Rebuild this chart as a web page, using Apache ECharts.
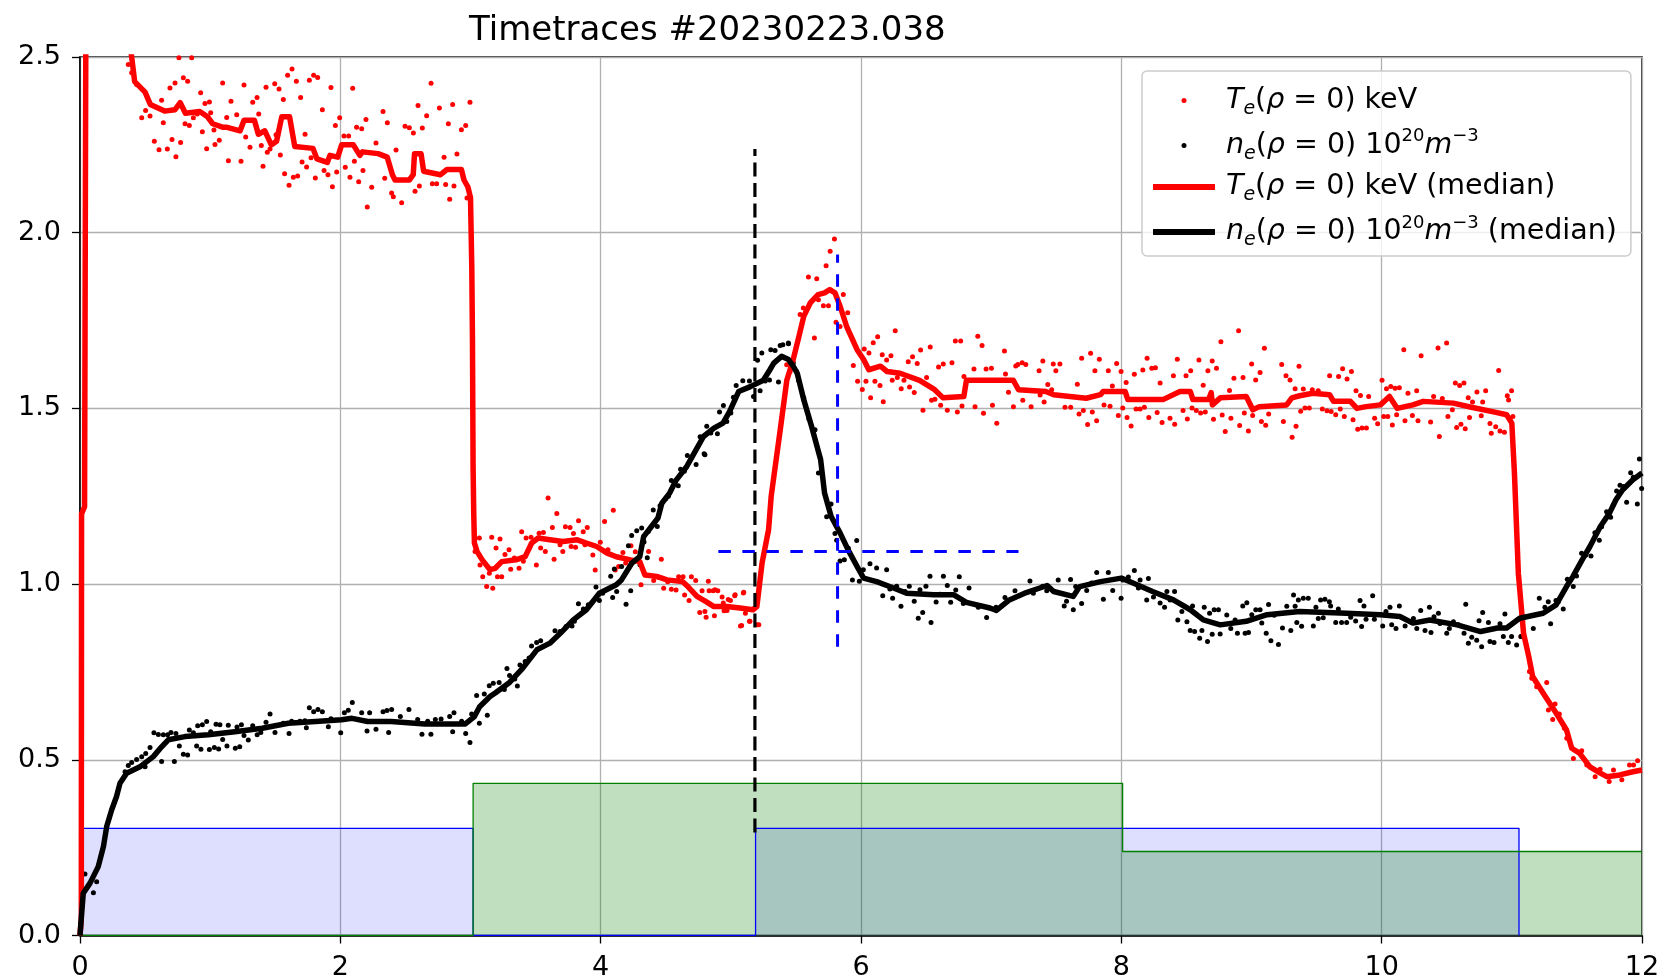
<!DOCTYPE html>
<html>
<head>
<meta charset="utf-8">
<title>Timetraces #20230223.038</title>
<script src="https://cdn.jsdelivr.net/npm/echarts@6/dist/echarts.min.js"></script>
<style>
  html, body { margin: 0; padding: 0; background: #ffffff; }
  #chart { width: 1663px; height: 980px; }
</style>
</head>
<body>
<div id="chart"></div>
<script>
// ---- axis ticks ----
const xTicks = [0, 2, 4, 6, 8, 10, 12];
const yTicks = [0.0, 0.5, 1.0, 1.5, 2.0, 2.5];

// ---- central electron temperature, raw samples [t (s), keV] ----
const teSamples = [
  [0.371,2.479],[0.397,2.455],[0.435,2.422],[0.474,2.327],[0.504,2.348],[0.538,2.332],[0.571,2.26],[0.607,2.236],
  [0.627,2.377],[0.64,2.313],[0.671,2.238],[0.691,2.412],[0.707,2.265],[0.73,2.426],[0.737,2.216],[0.76,2.498],
  [0.773,2.257],[0.794,2.441],[0.807,2.31],[0.827,2.431],[0.84,2.305],[0.858,2.498],[0.871,2.327],[0.901,2.338],
  [0.927,2.398],[0.94,2.287],[0.96,2.368],[0.973,2.239],[0.994,2.372],[1.004,2.341],[1.029,2.292],[1.037,2.251],
  [1.07,2.263],[1.096,2.426],[1.127,2.328],[1.14,2.205],[1.16,2.374],[1.204,2.336],[1.237,2.203],[1.26,2.42],
  [1.273,2.272],[1.306,2.243],[1.327,2.371],[1.36,2.385],[1.373,2.338],[1.393,2.248],[1.406,2.189],[1.429,2.414],
  [1.439,2.229],[1.46,2.238],[1.496,2.424],[1.506,2.279],[1.529,2.409],[1.539,2.221],[1.562,2.379],[1.572,2.168],
  [1.595,2.448],[1.606,2.135],[1.629,2.466],[1.639,2.158],[1.662,2.431],[1.672,2.161],[1.695,2.385],[1.706,2.201],
  [1.729,2.28],[1.741,2.187],[1.762,2.434],[1.775,2.213],[1.795,2.448],[1.808,2.156],[1.826,2.442],[1.862,2.35],
  [1.875,2.177],[1.905,2.165],[1.928,2.413],[1.939,2.131],[1.962,2.305],[1.972,2.173],[1.995,2.327],[2.028,2.275],
  [2.038,2.186],[2.064,2.275],[2.074,2.158],[2.095,2.411],[2.108,2.203],[2.125,2.3],[2.141,2.145],[2.164,2.296],
  [2.174,2.177],[2.197,2.322],[2.207,2.073],[2.241,2.129],[2.274,2.255],[2.328,2.345],[2.341,2.155],[2.361,2.313],
  [2.394,2.113],[2.407,2.102],[2.428,2.235],[2.471,2.085],[2.497,2.303],[2.53,2.299],[2.561,2.284],[2.574,2.118],
  [2.597,2.362],[2.607,2.133],[2.63,2.298],[2.663,2.333],[2.697,2.425],[2.707,2.139],[2.74,2.139],[2.761,2.355],
  [2.797,2.215],[2.809,2.137],[2.83,2.31],[2.84,2.095],[2.863,2.365],[2.873,2.133],[2.896,2.224],[2.93,2.293],
  [2.963,2.305],[2.973,2.099],[2.996,2.371],
  [3.035,1.093],[3.068,1.131],[3.073,1.054],[3.094,1.021],[3.124,0.993],[3.145,1.031],[3.163,1.133],[3.171,0.988],
  [3.196,1.103],[3.207,1.021],[3.227,1.128],[3.24,1.021],[3.265,1.084],[3.296,1.098],[3.309,1.042],[3.337,1.074],
  [3.373,1.045],[3.393,1.149],[3.406,1.065],[3.427,1.131],[3.465,1.133],[3.506,1.054],[3.527,1.145],[3.539,1.103],
  [3.56,1.147],[3.575,1.093],[3.596,1.245],[3.629,1.161],[3.642,1.071],[3.663,1.201],[3.688,1.112],[3.709,1.093],
  [3.729,1.163],[3.765,1.161],[3.773,1.107],[3.791,1.144],[3.807,1.105],[3.83,1.18],[3.866,1.149],[3.879,1.112],
  [3.897,1.161],[3.94,1.083],[3.958,1.04],[3.997,1.119],[4.03,1.178],[4.056,1.098],[4.097,1.21],[4.112,1.04],
  [4.138,1.05],[4.171,1.09],[4.192,1.06],[4.233,1.109],[4.266,1.092],[4.31,0.998],[4.368,1.093],[4.407,1.01],
  [4.445,1.019],[4.466,1.071],[4.484,0.988],[4.515,1.007],[4.543,0.985],[4.579,0.983],[4.599,1.021],[4.633,1.021],
  [4.645,0.969],[4.679,0.953],[4.697,1.021],[4.73,1.01],[4.761,0.919],[4.779,0.981],[4.801,0.922],[4.81,0.906],
  [4.827,1.008],[4.833,0.981],[4.864,0.981],[4.874,0.91],[4.878,0.984],[4.9,0.981],[4.933,0.963],[4.942,0.946],
  [4.948,0.924],[4.971,0.925],[4.98,0.956],[4.997,0.953],[5.03,0.967],[5.033,0.97],[5.074,0.881],[5.083,0.882],
  [5.096,0.975],[5.099,0.977],[5.112,0.917],[5.143,0.894],[5.147,0.894],[5.203,0.884],[5.215,0.884],
  [5.429,1.624],[5.455,1.605],[5.532,1.767],[5.557,1.786],[5.596,1.874],[5.642,1.7],[5.66,1.869],[5.673,1.809],
  [5.711,1.792],[5.732,1.906],[5.75,1.792],[5.763,1.947],[5.796,1.982],[5.808,1.745],[5.839,1.733],[5.864,1.824],
  [5.898,1.772],[5.941,1.622],[5.974,1.577],[6.01,1.554],[6.025,1.669],[6.038,1.577],[6.061,1.658],[6.074,1.53],
  [6.094,1.687],[6.107,1.577],[6.128,1.704],[6.146,1.565],[6.163,1.653],[6.171,1.519],[6.197,1.638],[6.23,1.65],
  [6.24,1.58],[6.263,1.721],[6.279,1.588],[6.309,1.556],[6.33,1.58],[6.363,1.633],[6.373,1.561],[6.396,1.647],
  [6.409,1.545],[6.432,1.628],[6.458,1.666],[6.476,1.495],[6.504,1.588],[6.532,1.675],[6.542,1.523],[6.568,1.526],
  [6.596,1.618],[6.612,1.509],[6.632,1.626],[6.663,1.495],[6.699,1.63],[6.725,1.692],[6.74,1.49],[6.766,1.692],
  [6.776,1.507],[6.791,1.591],[6.868,1.612],[6.876,1.505],[6.897,1.705],[6.93,1.679],[6.941,1.486],[6.961,1.612],
  [7.002,1.614],[7.01,1.509],[7.043,1.458],[7.102,1.663],[7.11,1.598],[7.133,1.546],[7.171,1.505],[7.189,1.621],
  [7.205,1.625],[7.238,1.63],[7.243,1.523],[7.266,1.625],[7.307,1.505],[7.368,1.607],[7.376,1.538],[7.397,1.635],
  [7.407,1.518],[7.435,1.568],[7.465,1.553],[7.477,1.626],[7.497,1.607],[7.528,1.626],[7.567,1.503],[7.611,1.503],
  [7.662,1.569],[7.675,1.484],[7.695,1.643],[7.708,1.494],[7.741,1.454],[7.764,1.657],[7.777,1.49],[7.797,1.607],
  [7.81,1.465],[7.831,1.64],[7.867,1.51],[7.9,1.607],[7.913,1.506],[7.931,1.564],[7.964,1.628],[7.977,1.48],
  [7.998,1.605],[8.011,1.501],[8.037,1.574],[8.044,1.474],[8.075,1.45],[8.1,1.597],[8.113,1.498],[8.144,1.498],
  [8.165,1.609],[8.177,1.503],[8.198,1.643],[8.211,1.474],[8.234,1.614],[8.262,1.616],[8.275,1.488],[8.298,1.572],
  [8.313,1.46],[8.374,1.472],[8.4,1.593],[8.41,1.455],[8.43,1.64],[8.474,1.494],[8.497,1.593],[8.507,1.47],
  [8.533,1.607],[8.543,1.501],[8.576,1.494],[8.596,1.638],[8.609,1.487],[8.629,1.566],[8.645,1.49],[8.665,1.607],
  [8.698,1.635],[8.708,1.469],[8.731,1.614],[8.765,1.69],[8.775,1.481],[8.798,1.434],[8.831,1.551],[8.842,1.472],
  [8.865,1.586],[8.901,1.721],[8.909,1.451],[8.935,1.588],[8.945,1.487],[8.976,1.436],[9.001,1.626],[9.009,1.48],
  [9.032,1.581],[9.066,1.602],[9.076,1.463],[9.099,1.671],[9.109,1.452],[9.132,1.484],[9.232,1.625],[9.245,1.463],
  [9.265,1.593],[9.296,1.581],[9.312,1.418],[9.335,1.556],[9.342,1.449],[9.365,1.62],[9.378,1.492],[9.398,1.555],
  [9.411,1.501],[9.444,1.501],[9.467,1.553],[9.513,1.55],[9.544,1.498],[9.58,1.493],[9.6,1.593],[9.612,1.491],
  [9.647,1.482],[9.669,1.591],[9.682,1.498],[9.7,1.613],[9.713,1.477],[9.734,1.584],[9.768,1.605],[9.78,1.468],
  [9.803,1.55],[9.816,1.441],[9.837,1.537],[9.849,1.444],[9.883,1.444],[9.9,1.534],[9.946,1.472],[9.969,1.456],
  [10.003,1.58],[10.016,1.477],[10.037,1.556],[10.047,1.477],[10.07,1.562],[10.082,1.453],[10.103,1.557],[10.115,1.482],
  [10.136,1.559],[10.17,1.667],[10.179,1.465],[10.202,1.543],[10.236,1.48],[10.269,1.55],[10.279,1.465],[10.303,1.65],
  [10.376,1.461],[10.399,1.534],[10.433,1.672],[10.443,1.42],[10.466,1.528],[10.499,1.686],[10.509,1.477],[10.543,1.496],
  [10.566,1.572],[10.576,1.446],[10.599,1.565],[10.609,1.455],[10.632,1.572],[10.642,1.442],[10.665,1.53],[10.675,1.474],
  [10.698,1.518],[10.732,1.547],[10.765,1.479],[10.776,1.518],[10.799,1.55],[10.832,1.457],[10.842,1.429],[10.876,1.448],
  [10.899,1.608],[10.909,1.436],[10.943,1.432],[10.965,1.536],[10.975,1.524],[10.998,1.55],[11.008,1.477],
  [11.07,0.851],[11.076,0.851],[11.135,0.751],[11.153,0.732],[11.191,0.708],[11.268,0.72],[11.281,0.642],[11.314,0.615],
  [11.332,0.659],[11.365,0.63],[11.404,0.59],[11.422,0.561],[11.473,0.504],[11.537,0.526],[11.576,0.485],[11.64,0.452],
  [11.678,0.473],[11.748,0.438],[11.781,0.471],[11.845,0.443],[11.904,0.485],[11.935,0.485],[11.966,0.497]
];

// ---- central electron density, raw samples [t (s), 1e20 m^-3] ----
const neSamples = [
  [0.038,0.175],[0.103,0.122],[0.128,0.153],[0.346,0.466],[0.371,0.484],[0.397,0.492],[0.435,0.501],[0.474,0.509],
  [0.5,0.48],[0.505,0.518],[0.538,0.535],[0.568,0.577],[0.602,0.572],[0.627,0.495],[0.64,0.571],[0.673,0.571],
  [0.699,0.578],[0.725,0.495],[0.737,0.575],[0.763,0.539],[0.794,0.516],[0.827,0.514],[0.84,0.585],[0.871,0.577],
  [0.896,0.539],[0.904,0.597],[0.929,0.53],[0.94,0.6],[0.973,0.609],[0.994,0.529],[1.004,0.58],[1.032,0.535],
  [1.045,0.601],[1.065,0.531],[1.075,0.6],[1.096,0.558],[1.129,0.539],[1.139,0.598],[1.193,0.533],[1.206,0.593],
  [1.227,0.537],[1.24,0.6],[1.26,0.569],[1.293,0.556],[1.327,0.597],[1.361,0.571],[1.389,0.578],[1.429,0.607],
  [1.46,0.63],[1.498,0.578],[1.562,0.604],[1.606,0.575],[1.626,0.61],[1.69,0.61],[1.728,0.611],[1.739,0.591],
  [1.762,0.648],[1.795,0.637],[1.828,0.643],[1.862,0.637],[1.908,0.594],[1.928,0.617],[2.003,0.577],[2.031,0.634],
  [2.061,0.641],[2.092,0.663],[2.164,0.634],[2.205,0.582],[2.225,0.634],[2.274,0.587],[2.328,0.637],[2.358,0.64],
  [2.371,0.578],[2.394,0.643],[2.461,0.623],[2.527,0.643],[2.594,0.615],[2.627,0.573],[2.671,0.61],[2.696,0.573],
  [2.73,0.615],[2.774,0.616],[2.84,0.623],[2.863,0.58],[2.873,0.634],[2.932,0.61],[2.963,0.575],[2.996,0.549],
  [3.009,0.63],[3.047,0.683],[3.068,0.604],[3.106,0.687],[3.129,0.627],[3.144,0.711],[3.175,0.718],[3.22,0.72],
  [3.26,0.70],[3.28,0.76],[3.3,0.74],[3.34,0.73],[3.36,0.71],[3.38,0.77],[3.42,0.78],[3.45,0.79],
  [3.469,0.824],[3.508,0.834],[3.539,0.839],[3.649,0.867],[3.688,0.865],[3.734,0.879],[3.78,0.881],[3.798,0.894],
  [3.829,0.944],[3.867,0.929],[3.905,0.941],[3.964,0.992],[3.99,0.953],[4.015,0.974],[4.077,1.022],[4.092,0.962],
  [4.105,1.043],[4.123,0.979],[4.161,1.05],[4.195,0.943],[4.213,1.109],[4.231,0.981],[4.238,1.138],[4.277,1.152],
  [4.302,1.055],[4.315,1.16],[4.333,1.12],[4.358,1.075],[4.366,1.15],[4.404,1.211],[4.435,1.164],[4.456,1.223],
  [4.499,1.243],[4.52,1.25],[4.543,1.295],[4.596,1.28],[4.614,1.327],[4.643,1.321],[4.666,1.366],[4.733,1.34],
  [4.764,1.419],[4.795,1.371],[4.801,1.368],[4.815,1.449],[4.846,1.43],[4.897,1.428],[4.913,1.49],[4.943,1.508],
  [4.969,1.463],[5.0,1.487],[5.02,1.532],[5.041,1.565],[5.092,1.579],[5.143,1.578],[5.174,1.534],[5.205,1.637],
  [5.225,1.55],[5.238,1.658],[5.264,1.578],[5.297,1.581],[5.307,1.667],[5.34,1.665],[5.366,1.575],[5.379,1.679],
  [5.4,1.681],[5.442,1.686],[5.443,1.684],[5.48,1.63],[5.505,1.605],[5.52,1.58],[5.56,1.53],[5.6,1.47],
  [5.647,1.439],[5.673,1.316],[5.736,1.192],[5.77,1.228],[5.8,1.144],[5.813,1.125],[5.839,1.066],[5.872,1.069],
  [5.903,1.102],[5.934,1.012],[5.967,1.124],[5.987,1.008],[6.018,1.041],[6.069,1.058],[6.12,1.046],[6.167,0.967],
  [6.197,1.041],[6.222,0.986],[6.243,0.96],[6.274,0.994],[6.307,0.937],[6.338,0.979],[6.371,0.994],[6.409,0.951],
  [6.44,0.903],[6.453,0.984],[6.474,0.919],[6.499,0.994],[6.53,1.022],[6.538,0.891],[6.577,0.949],[6.607,0.971],
  [6.633,1.022],[6.663,0.996],[6.689,0.948],[6.728,0.983],[6.755,1.021],[6.786,0.945],[6.83,0.989],[6.901,0.934],
  [6.965,0.905],[6.996,0.931],[7.037,0.934],[7.106,0.962],[7.183,0.981],[7.298,1.009],[7.324,0.974],[7.396,0.994],
  [7.427,0.981],[7.438,0.993],[7.515,1.012],[7.561,0.938],[7.579,0.951],[7.61,1.013],[7.631,0.927],[7.649,0.993],
  [7.695,0.945],[7.734,0.982],[7.772,1.003],[7.811,1.033],[7.862,0.957],[7.9,1.033],[7.934,0.982],[7.998,0.96],
  [8.011,1.012],[8.054,1.02],[8.1,1.039],[8.131,0.989],[8.144,1.012],[8.195,0.955],[8.208,1.016],[8.247,0.963],
  [8.298,0.946],[8.332,0.934],[8.35,0.979],[8.375,0.955],[8.409,0.979],[8.434,0.898],[8.465,0.922],[8.504,0.893],
  [8.529,0.868],[8.547,0.938],[8.563,0.865],[8.602,0.846],[8.619,0.868],[8.637,0.934],[8.662,0.837],[8.678,0.917],
  [8.698,0.857],[8.713,0.927],[8.746,0.927],[8.759,0.858],[8.81,0.912],[8.841,0.874],[8.874,0.898],[8.892,0.86],
  [8.933,0.938],[8.951,0.86],[8.964,0.947],[8.977,0.862],[9.002,0.913],[9.033,0.927],[9.066,0.927],[9.079,0.889],
  [9.113,0.86],[9.131,0.942],[9.149,0.839],[9.174,0.911],[9.207,0.828],[9.238,0.875],[9.271,0.937],[9.302,0.868],
  [9.323,0.969],[9.335,0.937],[9.348,0.891],[9.36,0.955],[9.385,0.88],[9.398,0.96],[9.436,0.96],[9.475,0.881],
  [9.495,0.934],[9.513,0.902],[9.531,0.955],[9.551,0.904],[9.564,0.957],[9.598,0.95],[9.608,0.938],[9.647,0.891],
  [9.667,0.929],[9.692,0.891],[9.731,0.891],[9.762,0.906],[9.8,0.895],[9.834,0.953],[9.846,0.879],[9.864,0.938],
  [9.88,0.9],[9.931,0.967],[9.944,0.9],[10.008,0.881],[10.033,0.922],[10.064,0.934],[10.077,0.884],[10.11,0.874],
  [10.136,0.938],[10.18,0.881],[10.219,0.893],[10.244,0.902],[10.27,0.874],[10.3,0.925],[10.333,0.868],[10.367,0.934],
  [10.379,0.862],[10.402,0.907],[10.436,0.917],[10.448,0.888],[10.5,0.86],[10.52,0.874],[10.551,0.893],[10.589,0.884],
  [10.633,0.86],[10.646,0.943],[10.666,0.832],[10.692,0.849],[10.73,0.84],[10.748,0.896],[10.768,0.822],[10.776,0.919],
  [10.82,0.891],[10.832,0.837],[10.863,0.834],[10.909,0.887],[10.935,0.851],[10.947,0.915],[10.973,0.834],[10.998,0.851],
  [11.037,0.827],[11.07,0.851],[11.165,0.874],[11.211,0.96],[11.254,0.934],[11.28,0.95],[11.298,0.887],[11.339,0.953],
  [11.357,0.95],[11.395,0.929],[11.426,1.014],[11.472,0.993],[11.497,1.023],[11.536,1.088],[11.569,1.083],[11.608,1.08],
  [11.638,1.146],[11.672,1.125],[11.69,1.163],[11.728,1.206],[11.759,1.19],[11.779,1.225],[11.805,1.265],[11.831,1.281],
  [11.856,1.278],[11.882,1.233],[11.913,1.317],[11.933,1.304],[11.964,1.228],[11.98,1.356],[11.997,1.272]
];

// ---- running medians ----
const teMedian = [
  [0,0],[0.01,0.05],[0.012,1.2],[0.035,1.22],[0.045,2.6],[0.06,3.2],[0.2,3.0],[0.397,2.5],[0.42,2.43],[0.5,2.4],
  [0.54,2.365],[0.65,2.346],[0.73,2.35],[0.77,2.37],[0.81,2.34],[0.92,2.345],[0.98,2.33],[1.02,2.31],[1.1,2.3],
  [1.13,2.3],[1.23,2.29],[1.26,2.32],[1.34,2.32],[1.37,2.28],[1.42,2.29],[1.47,2.25],[1.51,2.26],[1.55,2.33],
  [1.61,2.33],[1.65,2.245],[1.79,2.24],[1.82,2.21],[1.9,2.2],[1.92,2.22],[1.98,2.215],[2.01,2.25],[2.1,2.25],
  [2.15,2.22],[2.17,2.23],[2.29,2.225],[2.36,2.215],[2.4,2.165],[2.42,2.15],[2.53,2.15],[2.56,2.165],[2.57,2.225],
  [2.62,2.225],[2.64,2.175],[2.77,2.165],[2.82,2.18],[2.93,2.18],[2.95,2.15],[2.98,2.13],[3.0,2.1],[3.01,1.9],
  [3.015,1.7],[3.02,1.33],[3.025,1.2],[3.03,1.117],[3.05,1.093],[3.09,1.069],[3.15,1.041],[3.19,1.045],[3.24,1.064],
  [3.35,1.069],[3.42,1.078],[3.47,1.117],[3.52,1.131],[3.61,1.126],[3.71,1.121],[3.82,1.126],[3.89,1.117],
  [3.97,1.107],[4.05,1.088],[4.12,1.078],[4.23,1.069],[4.3,1.064],[4.34,1.026],[4.43,1.022],[4.51,1.012],
  [4.63,1.007],[4.67,0.993],[4.74,0.965],[4.81,0.95],[4.87,0.936],[4.97,0.936],[5.07,0.932],[5.17,0.927],
  [5.2,0.936],[5.24,1.06],[5.29,1.155],[5.31,1.25],[5.38,1.44],[5.43,1.58],[5.48,1.64],[5.52,1.7],[5.56,1.762],
  [5.61,1.8],[5.67,1.824],[5.72,1.829],[5.76,1.838],[5.8,1.829],[5.84,1.79],[5.89,1.733],[5.97,1.667],[6.02,1.639],
  [6.06,1.61],[6.15,1.62],[6.2,1.605],[6.3,1.6],[6.45,1.58],[6.56,1.555],[6.63,1.53],[6.79,1.534],[6.81,1.58],
  [7.17,1.58],[7.21,1.553],[7.42,1.548],[7.48,1.539],[7.73,1.529],[7.84,1.539],[7.86,1.548],[8.03,1.548],
  [8.05,1.525],[8.32,1.525],[8.45,1.548],[8.53,1.548],[8.55,1.525],[8.67,1.525],[8.69,1.545],[8.7,1.51],
  [8.76,1.53],[8.96,1.534],[9.01,1.496],[9.06,1.505],[9.27,1.51],[9.31,1.53],[9.37,1.536],[9.47,1.543],
  [9.6,1.539],[9.63,1.52],[9.76,1.52],[9.81,1.5],[9.88,1.505],[9.99,1.51],[10.06,1.534],[10.12,1.5],
  [10.24,1.51],[10.32,1.52],[10.55,1.515],[10.68,1.504],[10.86,1.49],[10.96,1.482],[11.0,1.458],[11.02,1.316],
  [11.05,1.031],[11.09,0.86],[11.13,0.794],[11.16,0.737],[11.24,0.69],[11.34,0.633],[11.42,0.585],[11.46,0.533],
  [11.52,0.519],[11.6,0.48],[11.68,0.462],[11.73,0.452],[11.83,0.457],[11.93,0.466],[12.0,0.471]
];

const neMedian = [
  [0,0],[0.01,0.05],[0.025,0.12],[0.077,0.149],[0.14,0.196],[0.18,0.253],[0.205,0.31],[0.243,0.357],[0.28,0.395],
  [0.307,0.433],[0.358,0.462],[0.46,0.48],[0.563,0.509],[0.627,0.537],[0.678,0.557],[0.806,0.566],[0.985,0.571],
  [1.19,0.58],[1.4,0.59],[1.6,0.604],[1.81,0.609],[2.01,0.614],[2.09,0.618],[2.21,0.609],[2.39,0.609],[2.65,0.602],
  [2.96,0.602],[3.03,0.623],[3.07,0.651],[3.15,0.68],[3.19,0.69],[3.3,0.72],[3.4,0.76],[3.51,0.813],[3.61,0.832],
  [3.69,0.86],[3.79,0.898],[3.89,0.927],[3.99,0.974],[4.12,0.998],[4.16,1.012],[4.24,1.06],[4.3,1.078],[4.33,1.135],
  [4.38,1.159],[4.44,1.188],[4.47,1.23],[4.53,1.259],[4.58,1.296],[4.66,1.334],[4.71,1.367],[4.79,1.42],[4.87,1.444],
  [4.94,1.458],[4.99,1.491],[5.06,1.548],[5.15,1.562],[5.25,1.58],[5.3,1.61],[5.33,1.629],[5.39,1.648],[5.44,1.64],
  [5.48,1.62],[5.51,1.6],[5.56,1.525],[5.62,1.449],[5.69,1.354],[5.72,1.259],[5.77,1.193],[5.84,1.145],[5.9,1.098],
  [5.97,1.05],[6.02,1.017],[6.12,1.007],[6.25,0.989],[6.35,0.974],[6.56,0.97],[6.71,0.97],[6.81,0.948],[6.99,0.932],
  [7.04,0.925],[7.14,0.955],[7.27,0.976],[7.43,0.996],[7.48,0.979],[7.63,0.965],[7.68,0.993],[7.84,1.007],[8.0,1.017],
  [8.09,1.003],[8.24,0.979],[8.4,0.955],[8.53,0.927],[8.63,0.898],[8.76,0.884],[8.96,0.894],[9.12,0.913],[9.37,0.922],
  [9.73,0.917],[9.99,0.913],[10.14,0.908],[10.24,0.889],[10.37,0.898],[10.58,0.884],[10.76,0.865],[10.89,0.875],
  [10.96,0.875],[11.06,0.903],[11.24,0.917],[11.34,0.941],[11.42,0.993],[11.47,1.022],[11.54,1.069],[11.6,1.107],
  [11.68,1.164],[11.75,1.202],[11.8,1.24],[11.85,1.268],[11.93,1.297],[12.0,1.316]
];

// ---- heating phases (step outlines) ----
const heatingBlue = [[0,0],[0,0.305],[3.02,0.305],[3.02,0],[5.19,0],[5.19,0.305],[11.055,0.305],[11.055,0]];
const heatingGreen = [[0,0],[3.02,0],[3.02,0.433],[8.01,0.433],[8.01,0.239],[12,0.239]];

// ---- markers ----
const markerTime = [[5.185,0.293],[5.185,2.238]];
const crossVertical = [[5.82,0.822],[5.82,1.938]];
const crossHorizontal = [[4.904,1.093],[7.21,1.093]];

const FONT = 'DejaVu Sans';
const legendNames = ['Te', 'ne', 'Te median', 'ne median'];
const legendLabels = {
  'Te': '{sp| }{i|T}{sb|e}{r|(}{i|ρ}{r| = 0) keV}',
  'ne': '{sp| }{i|n}{sb|e}{r|(}{i|ρ}{r| = 0) 10}{su|20}{i|m}{su|−3}',
  'Te median': '{sp| }{i|T}{sb|e}{r|(}{i|ρ}{r| = 0) keV (median)}',
  'ne median': '{sp| }{i|n}{sb|e}{r|(}{i|ρ}{r| = 0) 10}{su|20}{i|m}{su|−3}{r| (median)}'
};

const chart = echarts.init(document.getElementById('chart'), null, { renderer: 'canvas' });

const option = {
  animation: false,
  backgroundColor: '#ffffff',
  title: {
    text: 'Timetraces #20230223.038',
    left: 469,
    top: 14,
    padding: 0,
    textStyle: { fontFamily: FONT, fontSize: 34, fontWeight: 'normal', color: '#000' }
  },
  grid: {
    left: 80, top: 57, width: 1562, height: 878.5,
    outerBoundsMode: 'none',
    show: true, borderColor: '#000', borderWidth: 1.5, backgroundColor: 'transparent'
  },
  legend: {
    data: legendNames,
    orient: 'vertical',
    left: 1142, top: 71,
    itemWidth: 62, itemHeight: 5, itemGap: 9,
    padding: [15, 14, 6, 8],
    backgroundColor: 'rgba(255,255,255,0.8)',
    borderColor: '#cccccc', borderWidth: 1.5, borderRadius: 5,
    selectedMode: false,
    lineStyle: { width: 6 },
    formatter: (name) => legendLabels[name],
    textStyle: {
      rich: {
        sp: { width: 6, fontSize: 28, lineHeight: 36 },
        r: { fontFamily: FONT, fontSize: 28.5, lineHeight: 36, color: '#000' },
        i: { fontFamily: FONT, fontSize: 28.5, lineHeight: 36, color: '#000', fontStyle: 'italic' },
        sb: { fontFamily: FONT, fontSize: 19, lineHeight: 19, color: '#000', fontStyle: 'italic', verticalAlign: 'bottom' },
        su: { fontFamily: FONT, fontSize: 18, lineHeight: 18, color: '#000', verticalAlign: 'top' }
      }
    }
  },
  xAxis: {
    type: 'value', min: xTicks[0], max: xTicks[xTicks.length - 1], interval: 2,
    axisLine: { show: true, onZero: false, lineStyle: { color: '#000', width: 1.5 } },
    axisTick: { show: true, inside: false, length: 8, lineStyle: { color: '#000', width: 1.3 } },
    axisLabel: { margin: 19, fontFamily: FONT, fontSize: 27, color: '#000' },
    splitLine: { show: true, lineStyle: { color: '#b0b0b0', width: 1.3 } }
  },
  yAxis: {
    type: 'value', min: yTicks[0], max: yTicks[yTicks.length - 1], interval: 0.5,
    axisLine: { show: true, onZero: false, lineStyle: { color: '#000', width: 1.5 } },
    axisTick: { show: true, inside: false, length: 8, lineStyle: { color: '#000', width: 1.3 } },
    axisLabel: { margin: 19, fontFamily: FONT, fontSize: 27, color: '#000', formatter: (v) => v.toFixed(1) },
    splitLine: { show: true, lineStyle: { color: '#b0b0b0', width: 1.3 } }
  },
  series: [
    {
      name: 'heating blue', type: 'line', data: heatingBlue, symbol: 'none', silent: true,
      lineStyle: { color: '#0000ff', width: 1.3 },
      areaStyle: { color: 'rgba(0,0,255,0.13)', opacity: 1, origin: 'start' }, z: 1
    },
    {
      name: 'heating green', type: 'line', data: heatingGreen, symbol: 'none', silent: true,
      lineStyle: { color: '#008000', width: 1.3 },
      areaStyle: { color: 'rgba(0,128,0,0.25)', opacity: 1, origin: 'start' }, z: 1
    },
    {
      name: 'Te', type: 'scatter', data: teSamples, symbol: 'circle', symbolSize: 5,
      itemStyle: { color: '#ff0000', opacity: 1 }, z: 3
    },
    {
      name: 'ne', type: 'scatter', data: neSamples, symbol: 'circle', symbolSize: 5,
      itemStyle: { color: '#000000', opacity: 1 }, z: 3
    },
    {
      name: 'Te median', type: 'line', data: teMedian, symbol: 'none', clip: true,
      lineStyle: { color: '#ff0000', width: 5.5, join: 'round' }, itemStyle: { color: '#ff0000' }, z: 4
    },
    {
      name: 'ne median', type: 'line', data: neMedian, symbol: 'none', clip: true,
      lineStyle: { color: '#000000', width: 5.5, join: 'round' }, itemStyle: { color: '#000000' }, z: 4
    },
    {
      name: 'time marker', type: 'line', data: markerTime, symbol: 'none', silent: true,
      lineStyle: { color: '#000000', width: 3.2, type: [14, 6.5] }, z: 5
    },
    {
      name: 'cross v', type: 'line', data: crossVertical, symbol: 'none', silent: true,
      lineStyle: { color: '#0000ff', width: 3, type: [12.5, 11.5] }, z: 5
    },
    {
      name: 'cross h', type: 'line', data: crossHorizontal, symbol: 'none', silent: true,
      lineStyle: { color: '#0000ff', width: 3, type: [12.5, 11.5] }, z: 5
    }
  ]
};

chart.setOption(option);
</script>
</body>
</html>
